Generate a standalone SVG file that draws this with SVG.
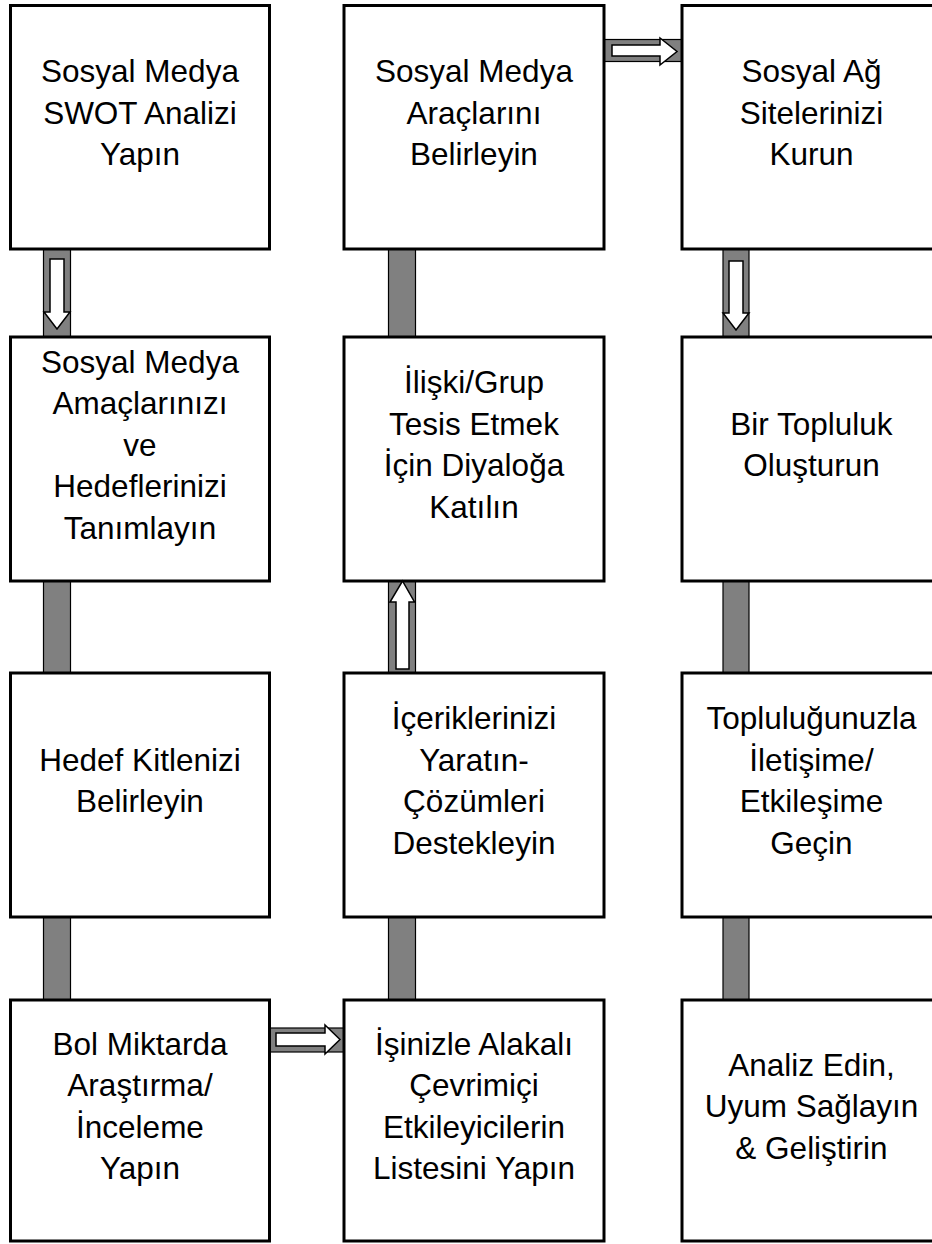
<svg xmlns="http://www.w3.org/2000/svg" width="932" height="1244" viewBox="0 0 932 1244">
<style>
.box{fill:#fff;stroke:#000;stroke-width:3}
.bar{fill:#808080;stroke:#000;stroke-width:1.2}
.arr{fill:#fff;stroke:#000;stroke-width:1.5;stroke-linejoin:miter}
.t{font-family:"Liberation Sans",Arial,sans-serif;font-size:31.5px;fill:#000;text-anchor:middle}
</style>
<rect width="932" height="1244" fill="#fff"/>
<g id="connectors">
<rect class="bar" x="43.5" y="249" width="27" height="88"/>
<rect class="bar" x="43.5" y="581" width="27" height="92"/>
<rect class="bar" x="43.5" y="917" width="27" height="83"/>
<rect class="bar" x="388.5" y="249" width="27" height="88"/>
<rect class="bar" x="388.5" y="581" width="27" height="92"/>
<rect class="bar" x="388.5" y="917" width="27" height="83"/>
<rect class="bar" x="723" y="249" width="26" height="88"/>
<rect class="bar" x="723" y="581" width="26" height="92"/>
<rect class="bar" x="723" y="917" width="26" height="83"/>
<rect class="bar" x="604" y="39.5" width="78" height="22"/>
<rect class="bar" x="270" y="1028" width="74" height="24"/>
</g>
<g id="n1"><rect class="box" x="10.5" y="5.5" width="259" height="243.5"/>
<text class="t" x="140" y="82">Sosyal Medya<tspan x="140" dy="41.5">SWOT Analizi</tspan><tspan x="140" dy="41.5">Yapın</tspan></text></g>
<g id="n2"><rect class="box" x="10.5" y="337" width="259" height="244"/>
<text class="t" x="140" y="372.5">Sosyal Medya<tspan x="140" dy="41.5">Amaçlarınızı</tspan><tspan x="140" dy="41.5">ve</tspan><tspan x="140" dy="41.5">Hedeflerinizi</tspan><tspan x="140" dy="41.5">Tanımlayın</tspan></text></g>
<g id="n3"><rect class="box" x="10.5" y="673" width="259" height="244"/>
<text class="t" x="140" y="770.75">Hedef Kitlenizi<tspan x="140" dy="41.5">Belirleyin</tspan></text></g>
<g id="n4"><rect class="box" x="10.5" y="1000" width="259" height="241"/>
<text class="t" x="140" y="1054.75">Bol Miktarda<tspan x="140" dy="41.5">Araştırma/</tspan><tspan x="140" dy="41.5">İnceleme</tspan><tspan x="140" dy="41.5">Yapın</tspan></text></g>
<g id="n5"><rect class="box" x="344" y="5.5" width="260" height="243.5"/>
<text class="t" x="474" y="82">Sosyal Medya<tspan x="474" dy="41.5">Araçlarını</tspan><tspan x="474" dy="41.5">Belirleyin</tspan></text></g>
<g id="n6"><rect class="box" x="344" y="337" width="260" height="244"/>
<text class="t" x="474" y="393.25">İlişki/Grup<tspan x="474" dy="41.5">Tesis Etmek</tspan><tspan x="474" dy="41.5">İçin Diyaloğa</tspan><tspan x="474" dy="41.5">Katılın</tspan></text></g>
<g id="n7"><rect class="box" x="344" y="673" width="260" height="244"/>
<text class="t" x="474" y="729.25">İçeriklerinizi<tspan x="474" dy="41.5">Yaratın-</tspan><tspan x="474" dy="41.5">Çözümleri</tspan><tspan x="474" dy="41.5">Destekleyin</tspan></text></g>
<g id="n8"><rect class="box" x="344" y="1000" width="260" height="241"/>
<text class="t" x="474" y="1054.75">İşinizle Alakalı<tspan x="474" dy="41.5">Çevrimiçi</tspan><tspan x="474" dy="41.5">Etkileyicilerin</tspan><tspan x="474" dy="41.5">Listesini Yapın</tspan></text></g>
<g id="n9"><rect class="box" x="682" y="5.5" width="259" height="243.5"/>
<text class="t" x="811.5" y="82">Sosyal Ağ<tspan x="811.5" dy="41.5">Sitelerinizi</tspan><tspan x="811.5" dy="41.5">Kurun</tspan></text></g>
<g id="n10"><rect class="box" x="682" y="337" width="259" height="244"/>
<text class="t" x="811.5" y="434.75">Bir Topluluk<tspan x="811.5" dy="41.5">Oluşturun</tspan></text></g>
<g id="n11"><rect class="box" x="682" y="673" width="259" height="244"/>
<text class="t" x="811.5" y="729.25">Topluluğunuzla<tspan x="811.5" dy="41.5">İletişime/</tspan><tspan x="811.5" dy="41.5">Etkileşime</tspan><tspan x="811.5" dy="41.5">Geçin</tspan></text></g>
<g id="n12"><rect class="box" x="682" y="1000" width="259" height="241"/>
<text class="t" x="811.5" y="1075.5">Analiz Edin,<tspan x="811.5" dy="41.5">Uyum Sağlayın</tspan><tspan x="811.5" dy="41.5">&amp; Geliştirin</tspan></text></g>
<g id="arrows">
<polygon class="arr" points="50,259 64,259 64,312 70,312 57,329 44,312 50,312"/>
<polygon class="arr" points="729,261 743,261 743,313 749,313 736,330 723,313 729,313"/>
<polygon class="arr" points="396,669 409,669 409,602 414.5,602 402.5,581 390,602 396,602"/>
<polygon class="arr" points="612,45 660,45 660,38 677,51.5 660,65 660,56 612,56"/>
<polygon class="arr" points="276,1033 325,1033 325,1025 340,1039.5 325,1054 325,1046 276,1046"/>
</g>
</svg>
